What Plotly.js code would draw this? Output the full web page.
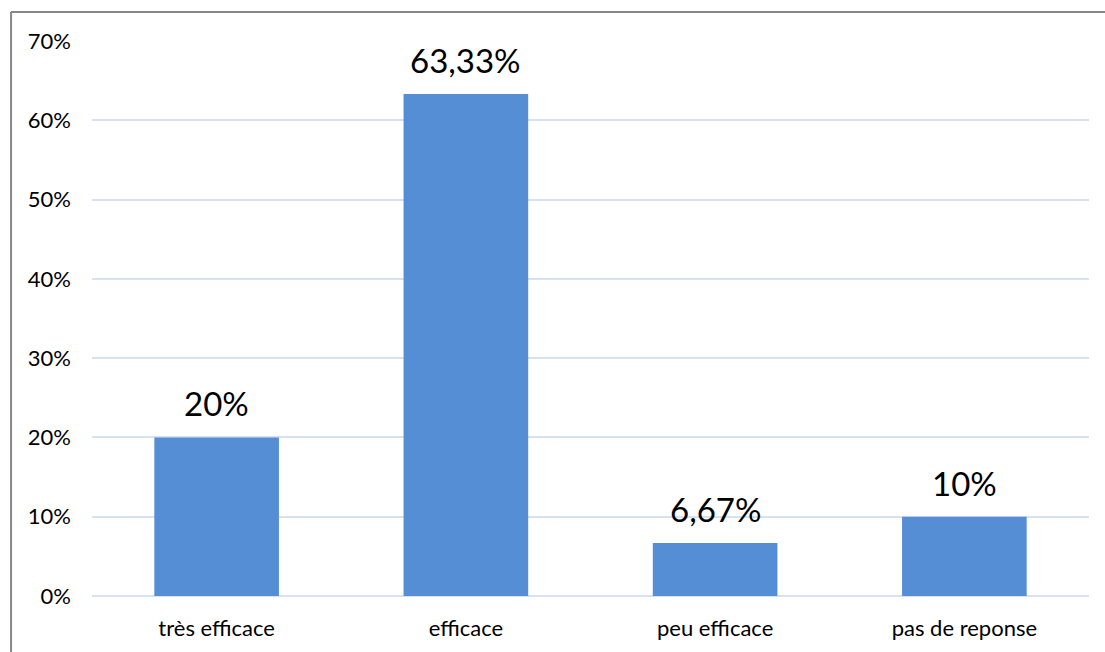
<!DOCTYPE html>
<html>
<head>
<meta charset="utf-8">
<script src="https://cdn.plot.ly/plotly-3.0.1.min.js"></script>
<style>html,body{margin:0;padding:0;background:#fff;}#chart{width:1105px;height:652px;}</style>
</head>
<body>
<div id="chart"></div>
<script>
const categories = ["très efficace", "efficace", "peu efficace", "pas de reponse"];
const values = [0.20, 0.6333, 0.0667, 0.10];
const valueLabels = ["20%", "63,33%", "6,67%", "10%"];
const yTickVals = [0, 0.1, 0.2, 0.3, 0.4, 0.5, 0.6, 0.7];
const yTickText = ["0%", "10%", "20%", "30%", "40%", "50%", "60%", "70%"];

const font = "Lato, 'Open Sans', sans-serif";

const annotations = categories.map((c, i) => ({
  x: c, y: values[i], xref: "x", yref: "y",
  text: valueLabels[i], showarrow: false,
  yanchor: "bottom", yshift: 12,
  font: {family: font, size: 33, color: "#000"}
}));

Plotly.newPlot("chart", [{
  type: "bar",
  x: categories,
  y: values,
  marker: {color: "#558ed5"},
  hoverinfo: "none"
}], {
  width: 1105, height: 652,
  margin: {l: 92, r: 16, t: 41, b: 56},
  paper_bgcolor: "#fff", plot_bgcolor: "#fff",
  bargap: 0.5,
  showlegend: false,
  font: {family: font, color: "#000"},
  annotations: annotations,
  xaxis: {
    showgrid: false, zeroline: false, showline: false, ticks: "",
    tickfont: {family: font, size: 22, color: "#000"},
    ticklabelstandoff: 17
  },
  yaxis: {
    range: [0, 0.7],
    tickvals: yTickVals, ticktext: yTickText,
    showgrid: true, gridcolor: "#d6e2f1", gridwidth: 2,
    zeroline: true, zerolinecolor: "#d6e2f1", zerolinewidth: 2,
    showline: false, ticks: "",
    tickfont: {family: font, size: 22, color: "#000"},
    ticklabelstandoff: 20
  },
  shapes: [
    {type: "line", xref: "paper", yref: "paper", x0: -0.0812, x1: 1.2, y0: 1.0523, y1: 1.0523, line: {color: "#888", width: 2}},
    {type: "line", xref: "paper", yref: "paper", x0: -0.0812, x1: -0.0812, y0: 1.0523, y1: -0.2, line: {color: "#888", width: 2}}
  ]
}, {staticPlot: true});
</script>
</body>
</html>
